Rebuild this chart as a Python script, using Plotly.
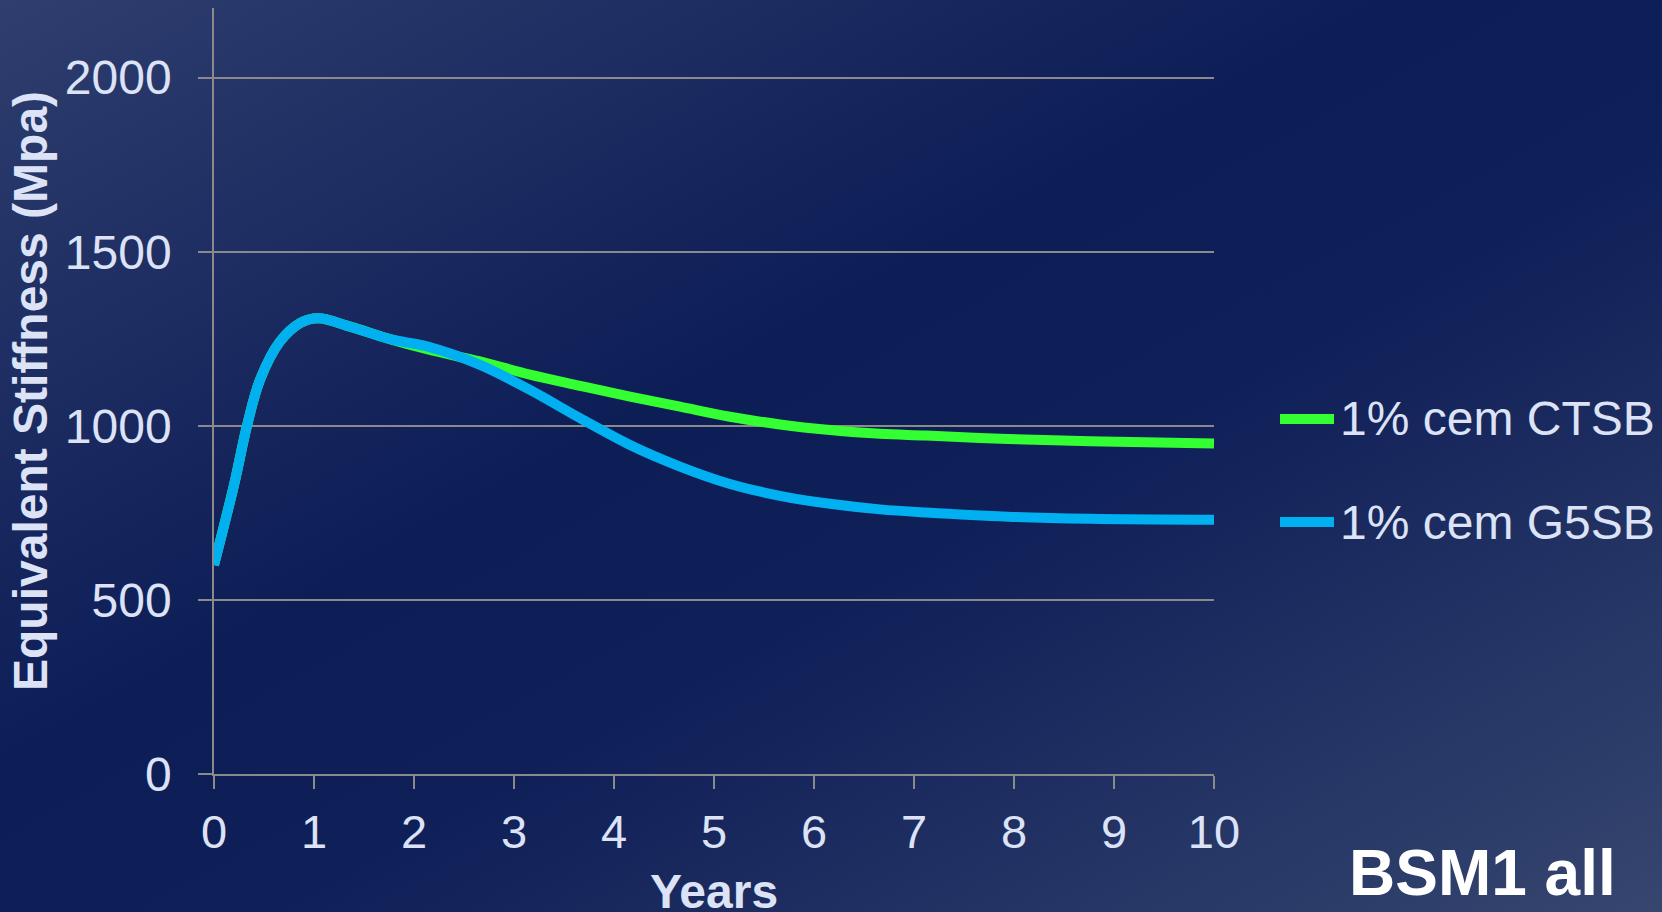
import base64
import plotly.graph_objects as go

# ---- data ----
years_g5sb = [0, 0.2, 0.33, 0.46, 0.66, 0.86, 1.04, 1.36, 1.76, 2.13, 2.66, 3.16, 3.66, 4.16, 4.66, 5.16, 5.66, 6.16, 6.66, 7.12, 7.94, 8.76, 10]
g5sb = [600, 830, 1000, 1132, 1242, 1295, 1309, 1285, 1249, 1228, 1175, 1103, 1022, 945, 883, 833, 799, 776, 760, 751, 739, 733, 730]

years_ctsb = [0, 0.2, 0.33, 0.46, 0.66, 0.86, 1.04, 1.36, 1.76, 2.13, 2.66, 3.16, 3.66, 4.16, 4.66, 5.16, 5.66, 6.16, 6.66, 7.12, 7.94, 8.76, 10]
ctsb = [600, 830, 1000, 1132, 1242, 1295, 1309, 1285, 1249, 1220, 1185, 1147, 1115, 1084, 1055, 1026, 1004, 988, 977, 972, 962, 956, 949]

series_names = ["1% cem CTSB", "1% cem G5SB"]
series_colors = ["#33ff33", "#00b0f0"]

x_ticks = list(range(0, 11))
y_ticks = [0, 500, 1000, 1500, 2000]

# ---- figure geometry ----
W, H = 1662, 912
ML, MR, MT, MB = 214, 448, 8, 138
PW, PH = W - ML - MR, H - MT - MB

TXT = "#dde3f6"
GRID = "#8a8a8a"
FONT = "Liberation Sans, Arial, sans-serif"

svg = (
    '<svg xmlns="http://www.w3.org/2000/svg" width="1662" height="912" preserveAspectRatio="none">'
    '<defs><linearGradient id="g" x1="0" y1="0" x2="1" y2="1">'
    '<stop offset="0" stop-color="#2f3e6e"/>'
    '<stop offset="0.42" stop-color="#0d1d56"/>'
    '<stop offset="0.58" stop-color="#0f1f58"/>'
    '<stop offset="1" stop-color="#36466f"/>'
    '</linearGradient></defs>'
    '<rect width="1662" height="912" fill="url(#g)"/></svg>'
)
bg_uri = "data:image/svg+xml;base64," + base64.b64encode(svg.encode()).decode()

fig = go.Figure()
for xs, ys, name, color in [(years_ctsb, ctsb, series_names[0], series_colors[0]),
                            (years_g5sb, g5sb, series_names[1], series_colors[1])]:
    fig.add_trace(go.Scatter(x=xs, y=ys, name=name, mode="lines", showlegend=False,
                             line=dict(color=color, width=10, shape="spline", smoothing=1.0)))


def px_x(px):
    return (px - ML) / PW


def px_y(py):
    return (MT + PH - py) / PH


# legend drawn as keys + labels (positions in pixels of the figure)
legend_y = [419, 522]
shapes = []
annotations = []
for name, color, ly in zip(series_names, series_colors, legend_y):
    shapes.append(dict(type="line", xref="paper", yref="paper",
                       x0=px_x(1280), x1=px_x(1334), y0=px_y(ly), y1=px_y(ly),
                       line=dict(color=color, width=10)))
    annotations.append(dict(text=name, xref="paper", yref="paper", x=px_x(1338), y=px_y(ly),
                            xanchor="left", yanchor="middle", showarrow=False,
                            font=dict(size=48, color=TXT, family=FONT)))

annotations += [
    dict(text="<b>Equivalent Stiffness (Mpa)</b>", textangle=-90, xref="paper", yref="paper",
         x=px_x(30), y=0.5, xanchor="center", yanchor="middle", showarrow=False,
         font=dict(size=48, color=TXT, family=FONT)),
    dict(text="<b>Years</b>", xref="paper", yref="paper",
         x=0.5, y=px_y(891), xanchor="center", yanchor="middle", showarrow=False,
         font=dict(size=48, color=TXT, family=FONT)),
    dict(text="<b>BSM1 all</b>", xref="paper", yref="paper",
         x=px_x(1482), y=px_y(873), xanchor="center", yanchor="middle", showarrow=False,
         font=dict(size=64, color="#ffffff", family=FONT)),
]

fig.update_layout(
    width=W, height=H,
    margin=dict(l=ML, r=MR, t=MT, b=MB, pad=0),
    paper_bgcolor="#0d1d56",
    plot_bgcolor="rgba(0,0,0,0)",
    font=dict(family=FONT, color=TXT, size=46),
    showlegend=False,
    images=[dict(source=bg_uri, xref="paper", yref="paper",
                 x=-ML / PW, y=1 + MT / PH, sizex=W / PW, sizey=H / PH,
                 xanchor="left", yanchor="top", sizing="stretch", layer="below")],
    shapes=shapes,
    annotations=annotations,
)

fig.update_xaxes(range=[0, 10], tickvals=x_ticks, ticktext=[str(v) for v in x_ticks],
                 showgrid=False, zeroline=False, showline=True, linecolor=GRID, linewidth=1.5,
                 ticks="outside", ticklen=13, tickwidth=1.5, tickcolor=GRID,
                 tickfont=dict(size=47, color=TXT, family=FONT), ticklabelstandoff=3)
fig.update_yaxes(range=[0, 2200], tickvals=y_ticks, ticktext=[str(v) for v in y_ticks],
                 showgrid=True, gridcolor=GRID, gridwidth=1.5, zeroline=False,
                 showline=True, linecolor=GRID, linewidth=1.5,
                 ticks="outside", ticklen=14, tickwidth=1.5, tickcolor=GRID,
                 tickfont=dict(size=48, color=TXT, family=FONT), ticklabelstandoff=17)

fig.write_html("out.html")
